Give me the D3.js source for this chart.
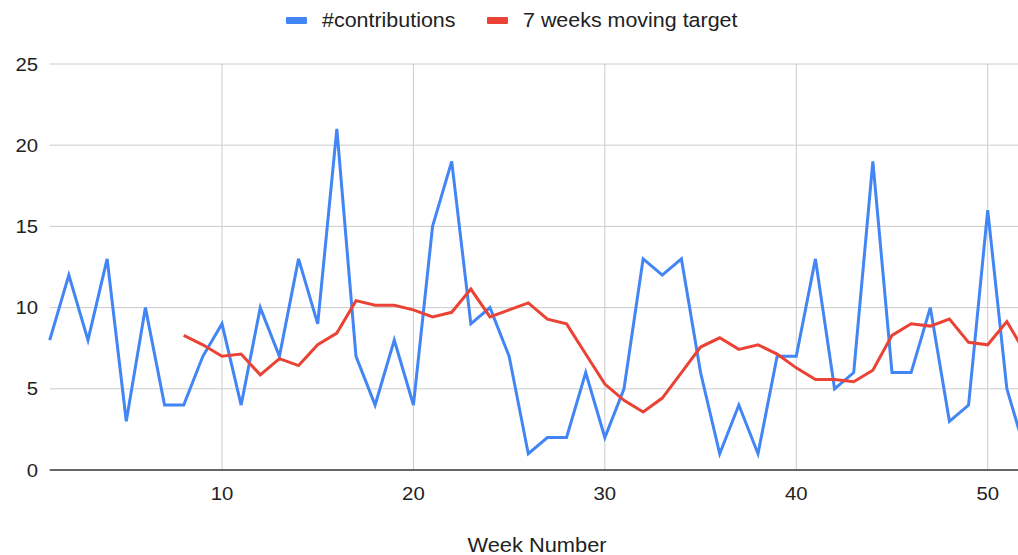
<!DOCTYPE html>
<html>
<head>
<meta charset="utf-8">
<script src="https://cdn.jsdelivr.net/npm/d3@7"></script>
<style>
  body { margin: 0; background: #fff; }
  svg { display: block; font-family: Arial, "Liberation Sans", sans-serif; }
</style>
</head>
<body>
<svg id="chart" width="1018" height="555"></svg>
<script>
// dati
const weeks = d3.range(1, 53);
const contributions = [8, 12, 8, 13, 3, 10, 4, 4, 7, 9, 4, 10, 7, 13, 9, 21, 7, 4, 8, 4,
  15, 19, 9, 10, 7, 1, 2, 2, 6, 2, 5, 13, 12, 13, 6, 1, 4, 1, 7, 7,
  13, 5, 6, 19, 6, 6, 10, 3, 4, 16, 5, 1];
// media mobile a 7 settimane (dalla settimana 8)
const movingTarget = [null, null, null, null, null, null, null,
  8.29, 7.71, 7.00, 7.14, 5.86, 6.86, 6.43, 7.71, 8.43, 10.43, 10.14, 10.14, 9.86,
  9.43, 9.71, 11.14, 9.43, 9.86, 10.29, 9.29, 9.00, 7.14, 5.29, 4.29, 3.57, 4.43,
  6.00, 7.57, 8.14, 7.43, 7.71, 7.14, 6.29, 5.57, 5.57, 5.43, 6.14, 8.29, 9.00,
  8.86, 9.29, 7.86, 7.71, 9.14, 7.14];
const yTicks = [0, 5, 10, 15, 20, 25];
const xTicks = [10, 20, 30, 40, 50];
const seriesNames = ["#contributions", "7 weeks moving target"];
const seriesColors = ["#4285f4", "#ea4335"];

const svg = d3.select("#chart");

const x = d3.scaleLinear().domain([1, 52]).range([49.7, 1026]);
const y = d3.scaleLinear().domain([0, 25]).range([470, 64]);

/*
* Testo leggermente allargato in orizzontale, come nell'immagine originale
*/
function addText(g, px, py, size, sx, anchor, label) {
  return g.append("text")
    .attr("transform", `translate(${px}, ${py}) scale(${sx}, 1)`)
    .attr("text-anchor", anchor)
    .style("font-size", size + "px")
    .style("fill", "#222")
    .text(label);
}

// griglia orizzontale
svg.append("g")
  .selectAll("line")
  .data(yTicks.filter(d => d > 0))
  .enter()
  .append("line")
  .attr("x1", x(1))
  .attr("x2", 1018)
  .attr("y1", d => y(d))
  .attr("y2", d => y(d))
  .style("stroke", "#cccccc")
  .style("stroke-width", 1);

// griglia verticale
svg.append("g")
  .selectAll("line")
  .data(xTicks)
  .enter()
  .append("line")
  .attr("x1", d => x(d))
  .attr("x2", d => x(d))
  .attr("y1", y(25))
  .attr("y2", y(0))
  .style("stroke", "#cccccc")
  .style("stroke-width", 1);

// etichette assi
const labels = svg.append("g");
yTicks.forEach(d => {
  addText(labels, 38, y(d) + 6.5, 18, 1.13, "end", d);
});
xTicks.forEach(d => {
  addText(labels, x(d), 499.5, 18, 1.13, "middle", d);
});
addText(labels, 537, 551.5, 21, 1.04, "middle", "Week Number");

// linee delle serie
const line = d3.line()
  .defined(d => d[1] !== null)
  .x(d => x(d[0]))
  .y(d => y(d[1]));

[contributions, movingTarget].forEach((vals, i) => {
  svg.append("path")
    .datum(weeks.map((w, j) => [w, vals[j]]))
    .attr("d", line)
    .style("fill", "none")
    .style("stroke", seriesColors[i])
    .style("stroke-width", 3)
    .style("stroke-linejoin", "miter");
});

// asse x
svg.append("line")
  .attr("x1", x(1))
  .attr("x2", 1018)
  .attr("y1", y(0))
  .attr("y2", y(0))
  .style("stroke", "#333")
  .style("stroke-width", 1.5);

// legenda
const legendX = [286, 487];
const legend = svg.append("g");
seriesNames.forEach((name, i) => {
  legend.append("rect")
    .attr("x", legendX[i])
    .attr("y", 17)
    .attr("width", 21)
    .attr("height", 7)
    .attr("rx", 1)
    .style("fill", seriesColors[i]);
  addText(legend, legendX[i] + 36, 26.5, 19.5, 1.1, "start", name);
});
</script>
</body>
</html>
